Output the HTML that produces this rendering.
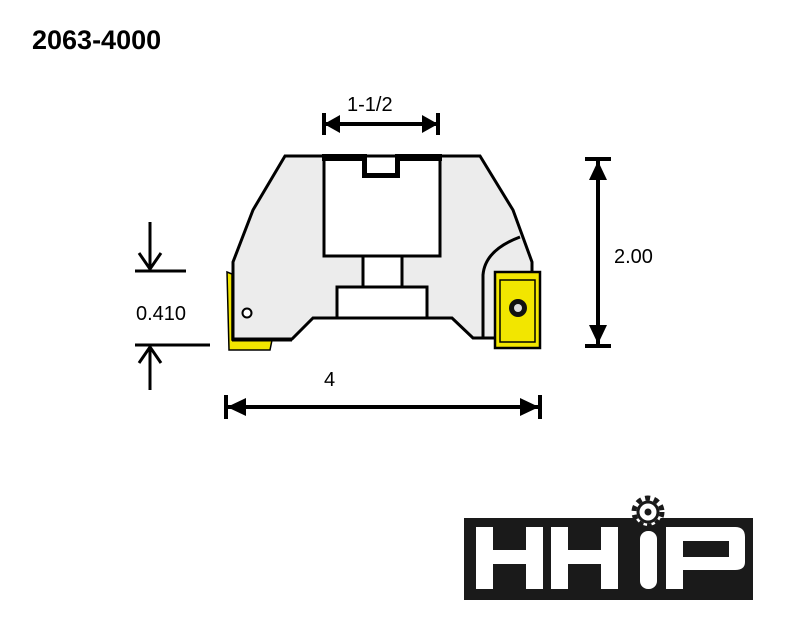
<!DOCTYPE html>
<html><head><style>
body{margin:0;width:787px;height:636px;background:#fff;overflow:hidden;position:relative;font-family:"Liberation Sans",sans-serif}
</style></head><body>
<svg width="787" height="636" viewBox="0 0 787 636" style="position:absolute;left:0;top:0">
<text x="32" y="49" font-family="Liberation Sans" font-weight="bold" font-size="27" fill="#000">2063-4000</text>
<g stroke="#000" stroke-width="3" stroke-linejoin="miter">
<path d="M285,156 L480,156 L513,210 L532,262 L532,338 L483,338 L473,338 L452,318 L313,318 L292,339 L233,339 L233,262 L253,210 Z" fill="#ececec"/>
<path d="M520,237 Q485,250 483,275 L483,338" fill="none"/>
<rect x="324" y="156" width="116" height="100" fill="#fff"/>
<rect x="363" y="256" width="39" height="31" fill="#fff"/>
<rect x="337" y="287" width="90" height="31" fill="#fff"/>
</g>
<path d="M322,154 L367,154 L367,173 L395,173 L395,154 L442,154 L442,161 L400,161 L400,178 L362,178 L362,161 L322,161 Z" fill="#000"/>
<path d="M227,272 L232,274 L232,340 L272,340 L270,350 L229,350 Z" fill="#f2e600" stroke="#000" stroke-width="1.5"/>
<line x1="233" y1="262" x2="233" y2="340" stroke="#000" stroke-width="3"/>
<line x1="232" y1="340" x2="292" y2="340" stroke="#000" stroke-width="3"/>
<circle cx="247" cy="313" r="4.5" fill="#fff" stroke="#000" stroke-width="2"/>
<rect x="495" y="272" width="45" height="76" fill="#f2e600" stroke="#000" stroke-width="2.5"/>
<path d="M500,280 L535,280 L535,342 L500,342 Z" fill="none" stroke="#000" stroke-width="1.5"/>
<circle cx="518" cy="308" r="9" fill="#111"/><circle cx="518" cy="308" r="4" fill="#ddd"/>
<g stroke="#000" stroke-width="4" fill="#000">
<line x1="324" y1="124" x2="438" y2="124"/><line x1="324" y1="113" x2="324" y2="135"/><line x1="438" y1="113" x2="438" y2="135"/>
<line x1="598" y1="160" x2="598" y2="345"/><line x1="585" y1="159" x2="611" y2="159"/><line x1="585" y1="346" x2="611" y2="346"/>
<line x1="226" y1="407" x2="540" y2="407"/><line x1="226" y1="395" x2="226" y2="419"/><line x1="540" y1="395" x2="540" y2="419"/>
<line x1="150" y1="222" x2="150" y2="268" stroke-width="3"/><line x1="135" y1="271" x2="186" y2="271" stroke-width="3"/>
<line x1="150" y1="348" x2="150" y2="390" stroke-width="3"/><line x1="135" y1="345" x2="210" y2="345" stroke-width="3"/>
</g>
<g fill="#000" stroke="none">
<path d="M324,124 L340,115 L340,133 Z"/><path d="M438,124 L422,115 L422,133 Z"/>
<path d="M598,161 L589,180 L607,180 Z"/><path d="M598,344 L589,325 L607,325 Z"/>
<path d="M227,407 L246,398 L246,416 Z"/><path d="M539,407 L520,398 L520,416 Z"/>
</g>
<g fill="none" stroke="#000" stroke-width="3"><path d="M139,253 L150,269 L161,253"/><path d="M139,363 L150,347 L161,363"/></g>
<g font-family="Liberation Sans" font-size="20" fill="#000">
<text x="347" y="111">1-1/2</text><text x="614" y="263">2.00</text><text x="324" y="386">4</text><text x="136" y="320">0.410</text>
</g>
<rect x="464" y="518" width="289" height="82" fill="#1a1a1a"/>
<g fill="#fff">
<rect x="476" y="527" width="17" height="62"/><rect x="493" y="550" width="33" height="14"/><rect x="526" y="527" width="17" height="62"/>
<rect x="551" y="527" width="17" height="62"/><rect x="568" y="550" width="33" height="14"/><rect x="601" y="527" width="17" height="62"/>
<rect x="640" y="531" width="17" height="58" rx="8"/>
<path d="M666,527 L735,527 Q745,527 745,537 L745,562 Q745,570 735,570 L683,570 L683,589 L666,589 Z"/>
</g>
<rect x="683" y="541" width="46" height="16" fill="#1a1a1a"/>
<g transform="translate(648,512)">
<circle r="14" fill="#fff" stroke="#1a1a1a" stroke-width="5" stroke-dasharray="5 4"/>
<circle r="10" fill="#fff" stroke="#1a1a1a" stroke-width="3"/>
<circle r="3.5" fill="#1a1a1a"/>
</g>
</svg>
</body></html>
